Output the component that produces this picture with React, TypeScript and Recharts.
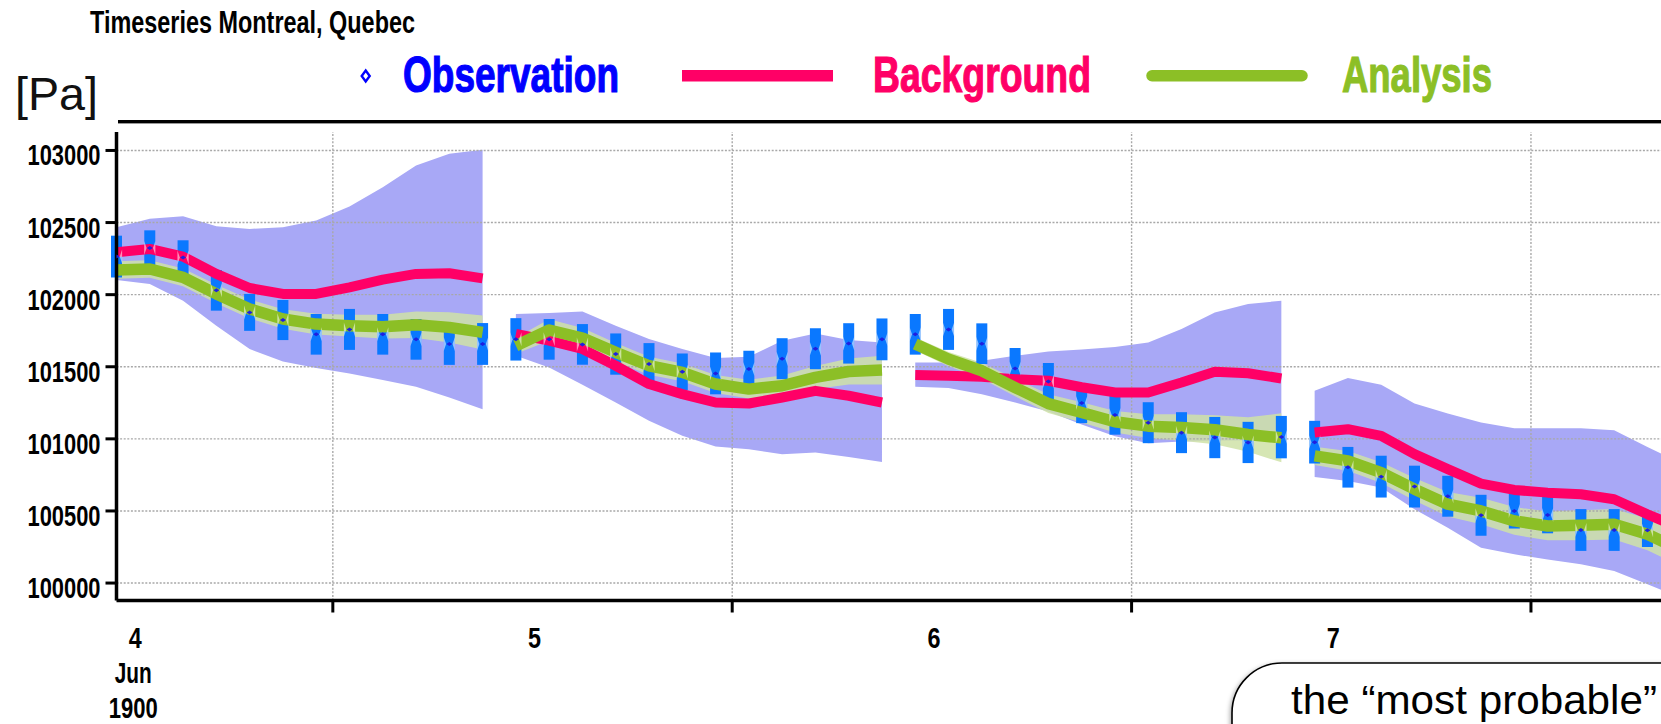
import { ComposedChart, Area, Line, Scatter, ErrorBar, XAxis, YAxis, ReferenceLine } from 'recharts'

// time in hours since 4 Jun 00:00, one value every 2 h, four 24 h windows of 12 points
const hours = [
  -1, 1, 3, 5, 7, 9, 11, 13, 15, 17, 19, 21,
  23, 25, 27, 29, 31, 33, 35, 37, 39, 41, 43, 45,
  47, 49, 51, 53, 55, 57, 59, 61, 63, 65, 67, 69,
  71, 73, 75, 77, 79, 81, 83, 85, 87, 89, 91, 93,
]

const observation = [
  102264, 102324, 102257, 102030, 101877, 101824, 101725, 101759, 101725, 101690, 101658, 101658,
  101690, 101690, 101655, 101588, 101519, 101465, 101454, 101484, 101556, 101625, 101662, 101690,
  101725, 101759, 101660, 101488, 101398, 101248, 101166, 101112, 101043, 101009, 100975, 101012,
  100977, 100803, 100738, 100669, 100602, 100470, 100500, 100472, 100368, 100368, 100366, 100300,
]

const obsError = [
  145, 122, 120, 141, 128, 139, 141, 142, 141, 141, 145, 145,
  147, 141, 141, 143, 145, 127, 145, 127, 142, 142, 140, 145,
  141, 142, 141, 142, 128, 139, 137, 142, 142, 143, 143, 147,
  148, 141, 145, 145, 142, 142, 122, 127, 145, 145, 116, 139,
]

const background = [
  102294, 102317, 102264, 102144, 102046, 102005, 102005, 102051, 102104, 102144, 102148, 102113,
  101727, 101681, 101623, 101507, 101380, 101310, 101252, 101245, 101287, 101333, 101299, 101252,
  101442, 101437, 101431, 101414, 101403, 101358, 101322, 101322, 101391, 101466, 101455, 101419,
  101044, 101067, 101021, 100894, 100790, 100690, 100646, 100627, 100616, 100581, 100477, 100380,
]

const analysis = [
  102171, 102178, 102120, 102005, 101901, 101831, 101796, 101785, 101778, 101792, 101773, 101738,
  101646, 101755, 101699, 101600, 101507, 101461, 101380, 101345, 101368, 101426, 101467, 101477,
  101658, 101553, 101472, 101356, 101244, 101183, 101119, 101088, 101079, 101063, 101030, 101007,
  100882, 100847, 100766, 100651, 100547, 100500, 100431, 100396, 100401, 100408, 100338, 100230,
]

const analysisSpread = [
  60, 60, 62, 64, 66, 68, 72, 76, 82, 92, 105, 118,
  55, 75, 70, 65, 62, 62, 62, 65, 72, 80, 90, 100,
  45, 50, 55, 60, 65, 70, 75, 82, 92, 100, 120, 170,
  63, 68, 72, 78, 85, 92, 96, 100, 104, 106, 110, 115,
]

const ensembleHigh = [
  102467, 102526, 102544, 102474, 102456, 102467, 102514, 102611, 102745, 102896, 102977, 103005,
  101866, 101873, 101884, 101785, 101692, 101623, 101560, 101569, 101681, 101731, 101685, 101669,
  101530, 101530, 101542, 101576, 101606, 101620, 101637, 101669, 101762, 101877, 101935, 101958,
  101333, 101422, 101375, 101246, 101176, 101113, 101074, 101074, 101074, 101060, 100944, 100830,
]

const ensembleLow = [
  102102, 102074, 101958, 101785, 101623, 101537, 101491, 101454, 101408, 101361, 101287, 101206,
  101576, 101495, 101375, 101252, 101125, 101021, 100947, 100928, 100894, 100905, 100875, 100840,
  101361, 101352, 101310, 101252, 101189, 101100, 101018, 100969, 100981, 100986, 100988, 100990,
  100736, 100708, 100662, 100512, 100384, 100245, 100199, 100164, 100130, 100083, 99991, 99900,
]

const yTicks = [100000, 100500, 101000, 101500, 102000, 102500, 103000]
const dayTicks = [0, 24, 48, 72]
const dayNames = ['4', '5', '6', '7']
const noonTicks = [12, 36, 60, 84]

const RED = '#ff0066'
const GREEN = '#8cbf26'
const BLUE = '#0000ff'
const BAR = '#0a78ff'
const FONT = '"Liberation Sans", Arial, Helvetica, sans-serif'

const rows = hours.map((t, i) => ({
  t,
  obs: observation[i],
  err: obsError[i],
  bg: background[i],
  an: analysis[i],
  ens: [ensembleLow[i], ensembleHigh[i]],
  anBand: [analysis[i] - analysisSpread[i], analysis[i] + analysisSpread[i]],
}))
const segments = [0, 1, 2, 3].map((k) => rows.slice(k * 12, k * 12 + 12))

function YTick({ x, y, payload }: any) {
  return (
    <text x={x} y={y + 15} textAnchor="end" fontSize={30} fontWeight="bold" fontFamily={FONT}
      textLength={73} lengthAdjust="spacingAndGlyphs" fill="#000">
      {payload.value}
    </text>
  )
}

function XTick({ x, y, payload }: any) {
  const v = payload.value
  if (noonTicks.includes(v)) {
    return <line x1={x} x2={x} y1={y} y2={y + 12} stroke="#000" strokeWidth={3} />
  }
  const idx = dayTicks.indexOf(v)
  if (idx < 0) return null
  const txt = { fontSize: 29, fontWeight: 'bold' as const, fontFamily: FONT, fill: '#000' }
  return (
    <g>
      <text x={x + 2} y={y + 47.5} textAnchor="middle" textLength={13} lengthAdjust="spacingAndGlyphs" {...txt}>{dayNames[idx]}</text>
      {idx === 0 && (
        <>
          <text x={x} y={y + 82.5} textAnchor="middle" textLength={37} lengthAdjust="spacingAndGlyphs" {...txt}>Jun</text>
          <text x={x} y={y + 117.5} textAnchor="middle" textLength={49} lengthAdjust="spacingAndGlyphs" {...txt}>1900</text>
        </>
      )}
    </g>
  )
}

// observation marker: slight pinch of the error bar plus a small dot at the value
function ObsMark({ cx, cy }: any) {
  if (cx == null || cy == null) return null
  return (
    <g>
      <path d={`M${cx - 5.6},${cy - 7} L${cx - 3.2},${cy} L${cx - 5.6},${cy + 7} Z`} fill="#fff" fillOpacity={0.55} />
      <path d={`M${cx + 5.6},${cy - 7} L${cx + 3.2},${cy} L${cx + 5.6},${cy + 7} Z`} fill="#fff" fillOpacity={0.55} />
      <path d={`M${cx},${cy - 2} L${cx + 3},${cy} L${cx},${cy + 2} L${cx - 3},${cy} Z`} fill="#1f1fe0" />
    </g>
  )
}

const gridStyle = { stroke: '#a8a8a8', strokeDasharray: '2 1.6', strokeWidth: 1.4 }

export default function App() {
  return (
    <div style={{ position: 'absolute', left: 0, top: 0, width: 1661, height: 724, overflow: 'hidden', background: '#fff' }}>
      <ComposedChart width={1720} height={724} margin={{ top: 132, right: 0, left: 0, bottom: 0 }}>
        <XAxis type="number" dataKey="t" domain={[-1, 95.36]} ticks={[...dayTicks, ...noonTicks].sort((a, b) => a - b)}
          interval={0} height={123.5} tickLine={false} tickSize={0} tickMargin={0} tick={<XTick />}
          axisLine={{ stroke: '#000', strokeWidth: 3.5 }} allowDataOverflow />
        <YAxis type="number" domain={[99879, 103128]} ticks={yTicks} interval={0} width={116.5}
          tickSize={11} tickMargin={5} tick={<YTick />} tickLine={{ stroke: '#000', strokeWidth: 3 }}
          axisLine={{ stroke: '#000', strokeWidth: 3.5 }} allowDataOverflow />

        {segments.map((seg, k) => (
          <Area key={`ens${k}`} data={seg} dataKey="ens" type="linear" stroke="none" fill="#a8a8f6" fillOpacity={1} isAnimationActive={false} />
        ))}
        {segments.map((seg, k) => (
          <Area key={`anb${k}`} data={seg} dataKey="anBand" type="linear" stroke="none" fill="#cfe2a7" fillOpacity={0.85} isAnimationActive={false} />
        ))}

        {yTicks.map((v) => <ReferenceLine key={`h${v}`} y={v} {...gridStyle} />)}
        {noonTicks.map((v) => <ReferenceLine key={`v${v}`} x={v} {...gridStyle} />)}

        <Scatter data={rows} dataKey="obs" shape={<ObsMark />} isAnimationActive={false}>
          <ErrorBar dataKey="err" direction="y" width={0} stroke={BAR} strokeWidth={11} />
        </Scatter>

        {segments.map((seg, k) => (
          <Line key={`bg${k}`} data={seg} dataKey="bg" type="linear" stroke={RED} strokeWidth={10} strokeLinejoin="round" dot={false} isAnimationActive={false} />
        ))}
        {segments.map((seg, k) => (
          <Line key={`an${k}`} data={seg} dataKey="an" type="linear" stroke={GREEN} strokeWidth={11.5} strokeLinejoin="round" dot={false} isAnimationActive={false} />
        ))}
      </ComposedChart>

      <svg width={1661} height={724} style={{ position: 'absolute', left: 0, top: 0, pointerEvents: 'none' }}>
        <defs>
          <filter id="shadow" x="-5%" y="-10%" width="110%" height="130%">
            <feDropShadow dx="-1.5" dy="1.5" stdDeviation="2" floodColor="#000" floodOpacity="0.3" />
          </filter>
        </defs>
        <text x={90} y={33} fontSize={32} fontWeight="bold" fontFamily={FONT} textLength={325} lengthAdjust="spacingAndGlyphs" fill="#000">
          Timeseries Montreal, Quebec
        </text>
        <text x={15} y={110} fontSize={47} fontFamily={FONT} textLength={83} lengthAdjust="spacingAndGlyphs" fill="#111">[Pa]</text>
        <rect x={118} y={120} width={1560} height={3.4} fill="#000" />

        <path d="M365.7,70.5 L369.7,76 L365.7,81.5 L361.7,76 Z" fill="#fff" stroke={BLUE} strokeWidth={2.4} />
        <text x={403} y={92} fontSize={50} fontWeight="bold" fontFamily={FONT} textLength={216} lengthAdjust="spacingAndGlyphs" fill={BLUE} stroke={BLUE} strokeWidth={1.2}>Observation</text>
        <line x1={682} x2={833} y1={75.8} y2={75.8} stroke={RED} strokeWidth={11.5} />
        <text x={873} y={92} fontSize={50} fontWeight="bold" fontFamily={FONT} textLength={218} lengthAdjust="spacingAndGlyphs" fill={RED} stroke={RED} strokeWidth={1.2}>Background</text>
        <line x1={1152} x2={1302} y1={75.8} y2={75.8} stroke={GREEN} strokeWidth={11.5} strokeLinecap="round" />
        <text x={1342} y={92} fontSize={50} fontWeight="bold" fontFamily={FONT} textLength={150} lengthAdjust="spacingAndGlyphs" fill={GREEN} stroke={GREEN} strokeWidth={1.2}>Analysis</text>

        <path d="M1232,800 L1232,713 A50,50 0 0 1 1282,663 L1720,663 L1720,800 Z" fill="#fff" stroke="#000" strokeWidth={1.6} filter="url(#shadow)" />
        <text x={1291} y={714} fontSize={41} fontFamily={FONT} textLength={366} lengthAdjust="spacingAndGlyphs" fill="#000">the “most probable”</text>
      </svg>
    </div>
  )
}
